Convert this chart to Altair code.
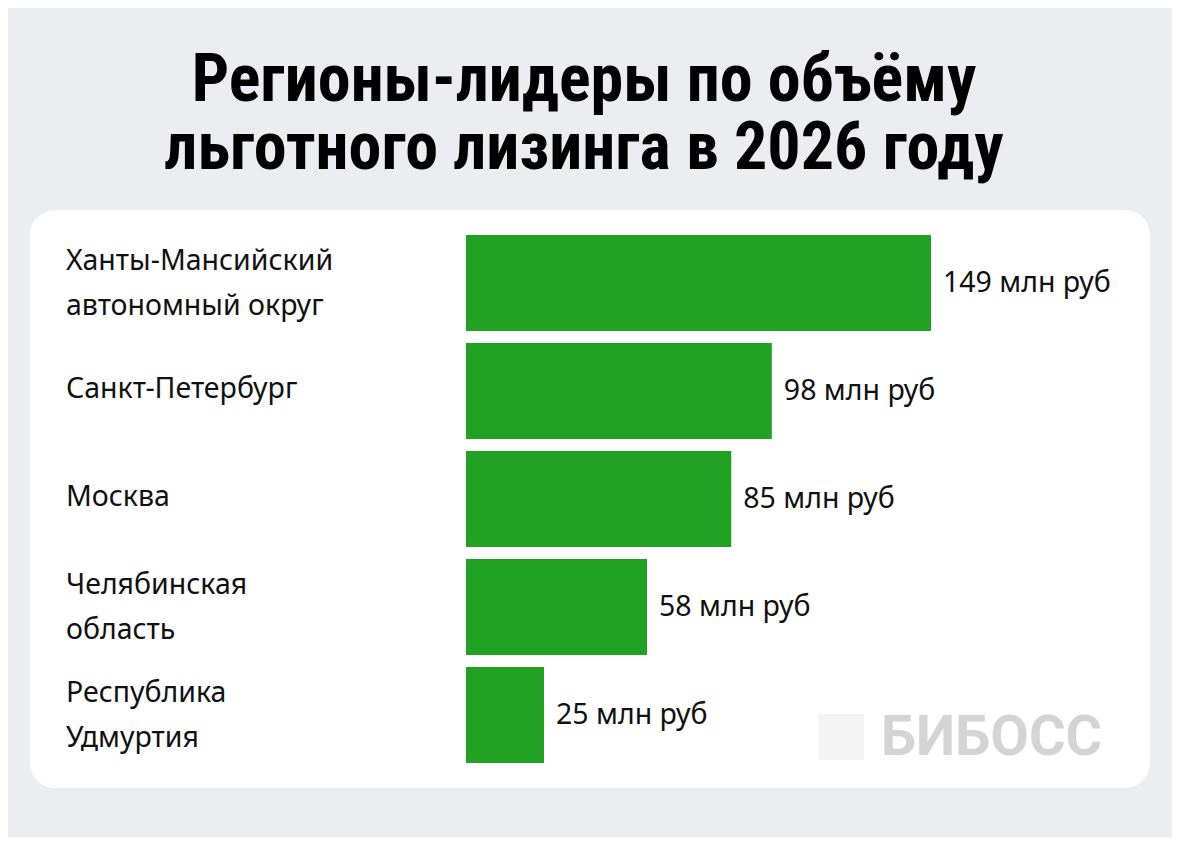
import altair as alt
import pandas as pd

regions = ["Ханты-Мансийский\nавтономный округ", "Санкт-Петербург", "Москва",
           "Челябинская\nобласть", "Республика\nУдмуртия"]
values = [149, 98, 85, 58, 25]
value_labels = ["149 млн руб", "98 млн руб", "85 млн руб", "58 млн руб", "25 млн руб"]
title_lines = ["Регионы-лидеры по объёму", "льготного лизинга в 2026 году"]
watermark = ["БИБОСС"]

df = pd.DataFrame({"region": regions, "value": values, "label": value_labels})
df["lines"] = df["region"].str.count("\n") + 1

y_enc = alt.Y("region:N", sort=None, axis=None,
              scale=alt.Scale(range=[19, 559], paddingInner=0.1111, paddingOuter=0.0556))
x_scale = alt.Scale(domain=[0, 149], range=[436, 901])

base = alt.Chart(df)

bars = base.mark_bar(color="#21a121").encode(
    x=alt.X("value:Q", scale=x_scale, axis=None),
    y=y_enc,
)

vals = base.mark_text(align="left", baseline="middle", dx=12, fontSize=28.5,
                      font="Noto Sans", color="#111111").encode(
    x=alt.X("value:Q", scale=x_scale, axis=None),
    y=y_enc,
    text="label:N",
)

cat_style = dict(align="left", baseline="middle", fontSize=28.5, lineBreak="\n",
                 lineHeight=45, font="Noto Sans", color="#111111")
cats1 = base.transform_filter("datum.lines == 1").mark_text(dy=-2, **cat_style).encode(
    x=alt.value(36), y=y_enc, text="region:N")
cats2 = base.transform_filter("datum.lines == 2").mark_text(dy=-22, **cat_style).encode(
    x=alt.value(36), y=y_enc, text="region:N")

wm_df = pd.DataFrame({"t": watermark})
wm = alt.Chart(wm_df).mark_text(align="left", baseline="middle", fontSize=56,
                                fontWeight="bold", font="Roboto", color="#d4d4d4").encode(
    x=alt.value(851), y=alt.value(528), text="t:N")
wm_icon = alt.Chart(wm_df).mark_square(size=2100, color="#f3f3f3", opacity=1).encode(
    x=alt.value(811), y=alt.value(527))

chart = alt.layer(bars, vals, cats1, cats2, wm_icon, wm).properties(
    width=1120, height=578,
    title=alt.TitleParams(title_lines, fontSize=66,
                          font="Roboto Condensed, DejaVu Sans Condensed, Roboto",
                          fontWeight="bold", anchor="middle", lineHeight=68,
                          offset=27, color="#000000", dx=-6),
    autosize=alt.AutoSizeParams(type="none"),
    padding={"left": 22, "top": 202, "right": 22, "bottom": 49},
    background="#ebedf1",
).configure_view(fill="white", cornerRadius=25, strokeWidth=0)

chart.save("out.html", embed_options={"renderer": "svg", "actions": False})
